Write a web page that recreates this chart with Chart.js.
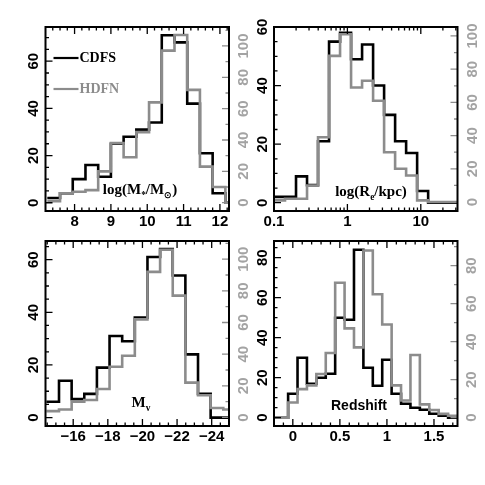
<!DOCTYPE html>
<html>
<head>
<meta charset="utf-8">
<script src="https://cdn.jsdelivr.net/npm/chart.js@4.4.1/dist/chart.umd.min.js"></script>
<style>
  html, body { margin: 0; padding: 0; background: #fff; }
  #wrap { position: relative; width: 485px; height: 485px; }
  #wrap canvas { position: absolute; left: 0; top: 0; }
</style>
</head>
<body>
<div id="wrap">
  <canvas id="mass" width="485" height="485"></canvas>
  <canvas id="size" width="485" height="485"></canvas>
  <canvas id="mag" width="485" height="485"></canvas>
  <canvas id="redshift" width="485" height="485"></canvas>
</div>
<script>
// stellar mass, log(M*/Msun)
const massEdges = [7.25, 7.6, 7.95, 8.3, 8.65, 9.0, 9.35, 9.7, 10.05, 10.4, 10.75, 11.1, 11.45, 11.8, 12.15, 12.25];
const massCDFS = [2, 4, 10, 16, 11, 25, 28, 31, 34, 71, 68, 42, 21, 4, 0];
const massHDFN = [1, 6, 7, 8, 20, 38, 29, 45, 64, 97, 107, 72, 23, 10, 0];
const massTicks = [8, 9, 10, 11, 12];
const massTickLabels = ['8', '9', '10', '11', '12'];

// effective radius, bins in log10(Re/kpc)
const sizeEdges = [-1.0, -0.85, -0.7, -0.55, -0.4, -0.25, -0.1, 0.05, 0.2, 0.35, 0.5, 0.65, 0.8, 0.95, 1.1, 1.5];
const sizeCDFS = [2, 2, 9, 6, 21, 55, 58, 49, 54, 40, 30, 21, 17, 4, 0];
const sizeHDFN = [1, 2, 2, 10, 39, 88, 101, 69, 73, 61, 30, 20, 16, 1, 0];
const sizeTicks = [-1, 0, 1];
const sizeTickLabels = ['0.1', '1', '10'];

// absolute V magnitude
const magEdges = [-14.45, -15.18, -15.91, -16.64, -17.37, -18.1, -18.83, -19.56, -20.29, -21.02, -21.75, -22.48, -23.21, -23.94, -24.67, -25.0];
const magCDFS = [6, 14, 7, 9, 19, 31, 29, 38, 61, 64, 54, 24, 9, 0, 0];
const magHDFN = [4, 5, 10, 11, 18, 32, 39, 62, 92, 106, 77, 22, 14, 6, 5];
const magTicks = [-16, -18, -20, -22, -24];
const magTickLabels = ['\u221216', '\u221218', '\u221220', '\u221222', '\u221224'];

// redshift
const zEdges = [-0.2, -0.05, 0.05, 0.15, 0.25, 0.35, 0.45, 0.55, 0.65, 0.75, 0.85, 0.95, 1.05, 1.15, 1.25, 1.35, 1.45, 1.55, 1.65, 1.75];
const zCDFS = [0, 12, 30, 17, 20, 22, 50, 49, 84, 25, 16, 29, 12, 7, 5, 4, 2, 1, 0];
const zHDFN = [0, 8, 15, 17, 23, 34, 71, 47, 37, 88, 65, 49, 17, 9, 33, 7, 4, 2, 1];
const zTicks = [0, 0.5, 1, 1.5];
const zTickLabels = ['0', '0.5', '1', '1.5'];

// count axes
const leftTicks = [0, 20, 40, 60];
const leftTicksZ = [0, 20, 40, 60, 80];
const rightTicks = [0, 20, 40, 60, 80, 100];
const rightTicksZ = [0, 20, 40, 60, 80];

const GRAY = '#8c8c8c';
const GRAY_TXT = '#a3a3a3';
const SANS = '"Liberation Sans", Arial, sans-serif';
const SERIF = '"Liberation Serif", "Times New Roman", serif';
const AXW = 30, AXH = 24;

function steps(edges, counts) {
  const pts = counts.map((c, i) => ({ x: edges[i], y: c }));
  pts.push({ x: edges[edges.length - 1], y: counts[counts.length - 1] });
  return pts;
}

function seq(a, b, step) {
  const out = [];
  for (let v = a; v <= b + 1e-9; v += step) out.push(+v.toFixed(4));
  return out;
}

function richText(ctx, parts, cx, baseY, size, family) {
  let total = 0;
  const segs = parts.map(([t, sub]) => {
    const f = 'bold ' + (sub ? size * 0.62 : size) + 'px ' + family;
    ctx.font = f;
    const w = ctx.measureText(t).width;
    total += w;
    return { t, sub, f, w };
  });
  let x = cx - total / 2;
  ctx.textAlign = 'left';
  ctx.textBaseline = 'alphabetic';
  for (const s of segs) {
    ctx.font = s.f;
    ctx.fillText(s.t, x, baseY + (s.sub ? size * 0.25 : 0));
    x += s.w;
  }
}

function framePlugin(p) {
  return {
    id: 'frame',
    afterDatasetsDraw(chart) {
      const { ctx, chartArea: a, scales } = chart;
      ctx.save();
      ctx.lineWidth = 1.3;
      const inX = v => { const px = scales.x.getPixelForValue(v); return px > a.left + 1 && px < a.right - 1 ? px : null; };
      const inY = (s, v) => { const py = scales[s].getPixelForValue(v); return py > a.top + 1 && py < a.bottom - 1 ? py : null; };

      ctx.strokeStyle = '#000';
      ctx.beginPath();
      [[p.xTicks, 7], [p.xMinor, 3.5]].forEach(([vals, len]) => vals.forEach(v => {
        const px = inX(v); if (px === null) return;
        ctx.moveTo(px, a.bottom); ctx.lineTo(px, a.bottom - len);
        ctx.moveTo(px, a.top); ctx.lineTo(px, a.top + len);
      }));
      [[p.leftTicks, 7], [p.leftMinor, 3.5]].forEach(([vals, len]) => vals.forEach(v => {
        const py = inY('yL', v); if (py === null) return;
        ctx.moveTo(a.left, py); ctx.lineTo(a.left + len, py);
      }));
      ctx.stroke();

      ctx.strokeStyle = GRAY;
      ctx.beginPath();
      [[p.rightTicks, 7], [p.rightMinor, 3.5]].forEach(([vals, len]) => vals.forEach(v => {
        const py = inY('yR', v); if (py === null) return;
        ctx.moveTo(a.right, py); ctx.lineTo(a.right - len, py);
      }));
      ctx.stroke();

      ctx.strokeStyle = '#000';
      ctx.lineWidth = 2;
      ctx.strokeRect(a.left, a.top, a.right - a.left, a.bottom - a.top);

      ctx.fillStyle = '#000';
      richText(ctx, p.title, p.titlePos[0], p.titlePos[1], p.titleSize, p.titleFont);

      if (p.legend) {
        p.legend.forEach(item => {
          ctx.strokeStyle = item.color;
          ctx.lineWidth = 2.2;
          ctx.beginPath();
          ctx.moveTo(a.left + 8, item.y); ctx.lineTo(a.left + 33, item.y);
          ctx.stroke();
          ctx.fillStyle = item.color;
          ctx.font = 'bold 14px ' + SERIF;
          ctx.textAlign = 'left';
          ctx.textBaseline = 'middle';
          ctx.fillText(item.text, a.left + 34, item.y + 0.5);
        });
      }
      ctx.restore();
    }
  };
}

function makePanel(id, p) {
  const [l, t, r, b] = p.area;
  const tickFont = { family: SANS, size: 15, weight: 'bold' };
  new Chart(document.getElementById(id), {
    type: 'line',
    data: {
      datasets: [
        { label: 'HDFN', data: steps(p.edges, p.hdfn), yAxisID: 'yR', borderColor: GRAY,
          borderWidth: 2.6, stepped: 'before', pointRadius: 0, fill: false, order: 0 },
        { label: 'CDFS', data: steps(p.edges, p.cdfs), yAxisID: 'yL', borderColor: '#000',
          borderWidth: 2.6, stepped: 'before', pointRadius: 0, fill: false, order: 1 }
      ]
    },
    options: {
      responsive: false,
      animation: false,
      events: [],
      layout: { padding: { left: l - AXW, top: t, right: 485 - r - AXW, bottom: 485 - b - AXH } },
      plugins: { legend: { display: false }, tooltip: { enabled: false } },
      scales: {
        x: {
          type: 'linear', position: 'bottom', min: p.xMin, max: p.xMax, reverse: !!p.reverse,
          grid: { display: false, drawTicks: false }, border: { display: false },
          ticks: { font: tickFont, color: '#000', padding: 2, autoSkip: false, minRotation: 0, maxRotation: 0,
                   callback: (v, i) => p.xLabels[i] },
          afterBuildTicks: s => { s.ticks = p.xTicks.map(v => ({ value: v })); },
          afterFit: s => { s.height = AXH; }
        },
        yL: {
          type: 'linear', position: 'left', min: p.yLMin, max: p.yLMax,
          grid: { display: false, drawTicks: false }, border: { display: false },
          ticks: { font: tickFont, color: '#000', padding: 3, minRotation: 90, maxRotation: 90,
                   crossAlign: 'center', autoSkip: false, callback: v => String(v) },
          afterBuildTicks: s => { s.ticks = p.leftTicks.map(v => ({ value: v })); },
          afterFit: s => { s.width = AXW; }
        },
        yR: {
          type: 'linear', position: 'right', min: p.yRMin, max: p.yRMax,
          grid: { display: false, drawTicks: false }, border: { display: false },
          ticks: { font: tickFont, color: GRAY_TXT, padding: p.rightPad, minRotation: 90, maxRotation: 90,
                   crossAlign: 'center', autoSkip: false, callback: v => String(v) },
          afterBuildTicks: s => { s.ticks = p.rightTicks.map(v => ({ value: v })); },
          afterFit: s => { s.width = AXW; }
        }
      }
    },
    plugins: [framePlugin(p)]
  });
}

const logMinor = [-1, 0, 1].flatMap(d => [2, 3, 4, 5, 6, 7, 8, 9].map(k => d + Math.log10(k)));

makePanel('mass', {
  area: [45.5, 27, 229, 211],
  edges: massEdges, cdfs: massCDFS, hdfn: massHDFN,
  xMin: 7.2, xMax: 12.25, xTicks: massTicks, xLabels: massTickLabels, xMinor: seq(7.2, 12.2, 0.2),
  yLMin: -3.5, yLMax: 74.5, leftTicks: leftTicks, leftMinor: seq(0, 70, 5),
  yRMin: -5.3, yRMax: 112.1, rightTicks: rightTicks, rightMinor: seq(0, 110, 10), rightPad: 2.5,
  title: [['log(M', 0], ['*', 1], ['/M', 0], ['\u2299', 1], [')', 0]], titlePos: [140, 194], titleSize: 15, titleFont: SERIF,
  legend: [{ text: 'CDFS', color: '#000', y: 58 }, { text: 'HDFN', color: GRAY, y: 89 }]
});

makePanel('size', {
  area: [274, 27, 457.5, 211],
  edges: sizeEdges, cdfs: sizeCDFS, hdfn: sizeHDFN,
  xMin: -1, xMax: 1.5, xTicks: sizeTicks, xLabels: sizeTickLabels, xMinor: logMinor,
  yLMin: -2.83, yLMax: 60, leftTicks: leftTicks, leftMinor: seq(0, 60, 5),
  yRMin: -5.4, yRMax: 105.4, rightTicks: rightTicks, rightMinor: seq(0, 100, 10), rightPad: 2.5,
  title: [['log(R', 0], ['e', 1], ['/kpc)', 0]], titlePos: [371, 196], titleSize: 15, titleFont: SERIF
});

makePanel('mag', {
  area: [45.5, 241, 229, 426],
  edges: magEdges, cdfs: magCDFS, hdfn: magHDFN, reverse: true,
  xMin: -25.0, xMax: -14.4, xTicks: magTicks, xLabels: magTickLabels, xMinor: seq(-25, -14.5, 0.5),
  yLMin: -3.2, yLMax: 67.1, leftTicks: leftTicks, leftMinor: seq(0, 65, 5),
  yRMin: -5.4, yRMax: 111.5, rightTicks: rightTicks, rightMinor: seq(0, 110, 10), rightPad: 2.5,
  title: [['M', 0], ['v', 1]], titlePos: [141, 407], titleSize: 15, titleFont: SERIF
});

makePanel('redshift', {
  area: [274, 241, 457.5, 426],
  edges: zEdges, cdfs: zCDFS, hdfn: zHDFN,
  xMin: -0.2, xMax: 1.75, xTicks: zTicks, xLabels: zTickLabels, xMinor: seq(-0.1, 1.7, 0.1),
  yLMin: -4.15, yLMax: 88.35, leftTicks: leftTicksZ, leftMinor: seq(0, 85, 5),
  yRMin: -4.4, yRMax: 93, rightTicks: rightTicksZ, rightMinor: seq(0, 90, 10), rightPad: 6.5,
  title: [['Redshift', 0]], titlePos: [359, 410], titleSize: 14, titleFont: SANS
});
</script>
</body>
</html>
